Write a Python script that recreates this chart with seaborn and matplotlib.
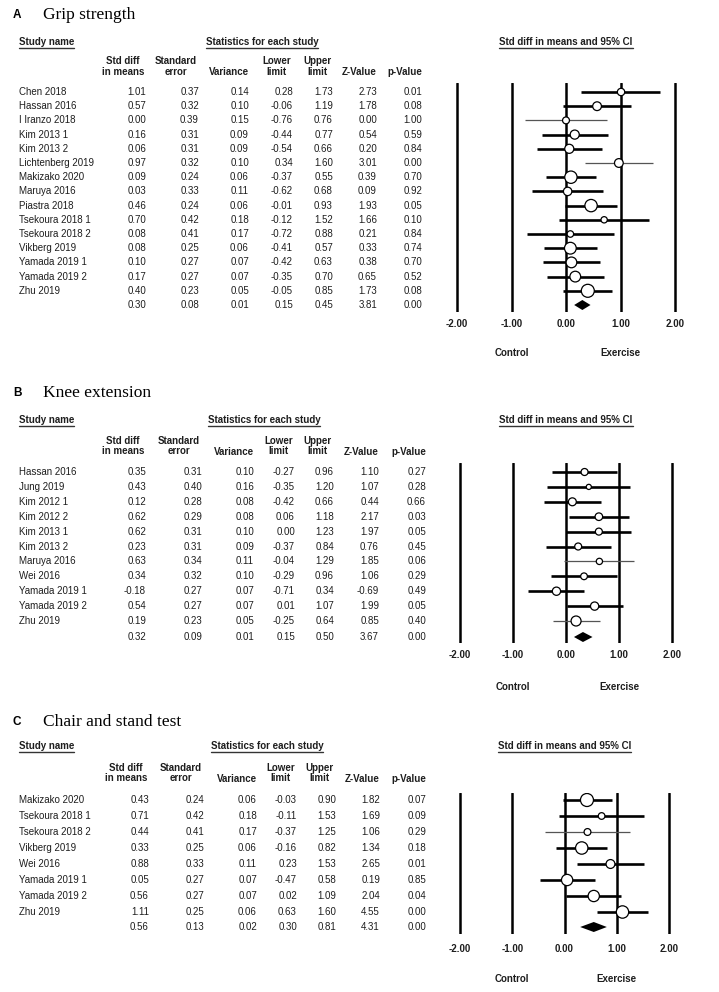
import numpy as np
import pandas as pd
import matplotlib
matplotlib.use("Agg")
import matplotlib.pyplot as plt
import matplotlib.transforms as mtransforms
import seaborn as sns

# ---------------- data ----------------
a_studies = ["Chen 2018", "Hassan 2016", "I Iranzo 2018", "Kim 2013 1", "Kim 2013 2",
             "Lichtenberg 2019", "Makizako 2020", "Maruya 2016", "Piastra 2018",
             "Tsekoura 2018 1", "Tsekoura 2018 2", "Vikberg 2019", "Yamada 2019 1",
             "Yamada 2019 2", "Zhu 2019"]
a_smd = [1.01, 0.57, 0.00, 0.16, 0.06, 0.97, 0.09, 0.03, 0.46, 0.70, 0.08, 0.08, 0.10, 0.17, 0.40]
a_se = [0.37, 0.32, 0.39, 0.31, 0.31, 0.32, 0.24, 0.33, 0.24, 0.42, 0.41, 0.25, 0.27, 0.27, 0.23]
a_var = [0.14, 0.10, 0.15, 0.09, 0.09, 0.10, 0.06, 0.11, 0.06, 0.18, 0.17, 0.06, 0.07, 0.07, 0.05]
a_lower = [0.28, -0.06, -0.76, -0.44, -0.54, 0.34, -0.37, -0.62, -0.01, -0.12, -0.72, -0.41, -0.42, -0.35, -0.05]
a_upper = [1.73, 1.19, 0.76, 0.77, 0.66, 1.60, 0.55, 0.68, 0.93, 1.52, 0.88, 0.57, 0.63, 0.70, 0.85]
a_z = [2.73, 1.78, 0.00, 0.54, 0.20, 3.01, 0.39, 0.09, 1.93, 1.66, 0.21, 0.33, 0.38, 0.65, 1.73]
a_p = [0.01, 0.08, 1.00, 0.59, 0.84, 0.00, 0.70, 0.92, 0.05, 0.10, 0.84, 0.74, 0.70, 0.52, 0.08]
a_overall = [0.30, 0.08, 0.01, 0.15, 0.45, 3.81, 0.00]

b_studies = ["Hassan 2016", "Jung 2019", "Kim 2012 1", "Kim 2012 2", "Kim 2013 1", "Kim 2013 2",
             "Maruya 2016", "Wei 2016", "Yamada 2019 1", "Yamada 2019 2", "Zhu 2019"]
b_smd = [0.35, 0.43, 0.12, 0.62, 0.62, 0.23, 0.63, 0.34, -0.18, 0.54, 0.19]
b_se = [0.31, 0.40, 0.28, 0.29, 0.31, 0.31, 0.34, 0.32, 0.27, 0.27, 0.23]
b_var = [0.10, 0.16, 0.08, 0.08, 0.10, 0.09, 0.11, 0.10, 0.07, 0.07, 0.05]
b_lower = [-0.27, -0.35, -0.42, 0.06, 0.00, -0.37, -0.04, -0.29, -0.71, 0.01, -0.25]
b_upper = [0.96, 1.20, 0.66, 1.18, 1.23, 0.84, 1.29, 0.96, 0.34, 1.07, 0.64]
b_z = [1.10, 1.07, 0.44, 2.17, 1.97, 0.76, 1.85, 1.06, -0.69, 1.99, 0.85]
b_p = [0.27, 0.28, 0.66, 0.03, 0.05, 0.45, 0.06, 0.29, 0.49, 0.05, 0.40]
b_overall = [0.32, 0.09, 0.01, 0.15, 0.50, 3.67, 0.00]

c_studies = ["Makizako 2020", "Tsekoura 2018 1", "Tsekoura 2018 2", "Vikberg 2019", "Wei 2016",
             "Yamada 2019 1", "Yamada 2019 2", "Zhu 2019"]
c_smd = [0.43, 0.71, 0.44, 0.33, 0.88, 0.05, 0.56, 1.11]
c_se = [0.24, 0.42, 0.41, 0.25, 0.33, 0.27, 0.27, 0.25]
c_var = [0.06, 0.18, 0.17, 0.06, 0.11, 0.07, 0.07, 0.06]
c_lower = [-0.03, -0.11, -0.37, -0.16, 0.23, -0.47, 0.02, 0.63]
c_upper = [0.90, 1.53, 1.25, 0.82, 1.53, 0.58, 1.09, 1.60]
c_z = [1.82, 1.69, 1.06, 1.34, 2.65, 0.19, 2.04, 4.55]
c_p = [0.07, 0.09, 0.29, 0.18, 0.01, 0.85, 0.04, 0.00]
c_overall = [0.56, 0.13, 0.02, 0.30, 0.81, 4.31, 0.00]

panel_letters = ["A", "B", "C"]
panel_titles = ["Grip strength", "Knee extension", "Chair and stand test"]
x_ticks = [-2, -1, 0, 1, 2]
x_tick_labels = ["-2.00", "-1.00", "0.00", "1.00", "2.00"]
col_headers = ["Std diff\nin means", "Standard\nerror", "Variance", "Lower\nlimit",
               "Upper\nlimit", "Z-Value", "p-Value"]

panels = [
    dict(studies=a_studies, smd=a_smd, se=a_se, var=a_var, lower=a_lower, upper=a_upper,
         z=a_z, p=a_p, overall=a_overall),
    dict(studies=b_studies, smd=b_smd, se=b_se, var=b_var, lower=b_lower, upper=b_upper,
         z=b_z, p=b_p, overall=b_overall),
    dict(studies=c_studies, smd=c_smd, se=c_se, var=c_var, lower=c_lower, upper=c_upper,
         z=c_z, p=c_p, overall=c_overall),
]

# ---------------- layout (pixels) ----------------
layout = [
    dict(title_y=15, study_y=42, h1=61, h2=72, row0=92, step=14.2, overall_y=305,
         cols=[146, 199, 249, 293, 333, 377, 422], stats_x=262,
         xm2=457, xp2=675, line_top=83, line_bot=312, tick_pad=5.0, ce_y=353,
         dmax=13, thin=[2, 5]),
    dict(title_y=393, study_y=420, h1=440, h2=452, row0=472, step=14.9, overall_y=637,
         cols=[146, 202, 254, 295, 334, 379, 426], stats_x=264,
         xm2=460, xp2=672, line_top=463, line_bot=643, tick_pad=5.0, ce_y=687,
         dmax=10, thin=[6, 10]),
    dict(title_y=722, study_y=746, h1=767, h2=779, row0=800, step=16.0, overall_y=927,
         cols=[149, 204, 257, 297, 336, 380, 426], stats_x=267,
         xm2=460, xp2=669, line_top=793, line_bot=934, tick_pad=7.5, ce_y=979,
         dmax=13, thin=[2]),
]

sns.set_theme(style="white")
plt.rcParams["font.family"] = ["Liberation Sans", "DejaVu Sans"]

W, H = 719, 992
fig = plt.figure(figsize=(W / 100, H / 100), dpi=100)
fig.patch.set_facecolor("white")
bg = fig.add_axes([0, 0, 1, 1])
bg.set_xlim(0, W)
bg.set_ylim(H, 0)
bg.axis("off")

TXT = "#1e1e1e"
FS = 7
underlined = []

for i, (pd_, lay) in enumerate(zip(panels, layout)):
    # title
    bg.text(17, lay["title_y"], panel_letters[i], fontsize=8.5, fontweight="bold",
            ha="center", va="center", color="black")
    bg.text(43, lay["title_y"], panel_titles[i], fontsize=12.5, family="Liberation Serif",
            ha="left", va="center", color="black")
    # headers
    t1 = bg.text(19, lay["study_y"], "Study name", fontsize=FS, fontweight="bold",
                 ha="left", va="center", color=TXT)
    t2 = bg.text(lay["stats_x"], lay["study_y"], "Statistics for each study", fontsize=FS,
                 fontweight="bold", ha="center", va="center", color=TXT)
    t3 = bg.text((lay["xm2"] + lay["xp2"]) / 2, lay["study_y"], "Std diff in means and 95% CI",
                 fontsize=FS, fontweight="bold", ha="center", va="center", color=TXT)
    underlined += [t1, t2, t3]
    for j, h in enumerate(col_headers):
        xr = lay["cols"][j] - (2 if j in (0, 1, 3, 4) else 0)
        if "\n" in h:
            bg.text(xr, (lay["h1"] + lay["h2"]) / 2, h, fontsize=FS, fontweight="bold",
                    ha="right", va="center", multialignment="center", linespacing=1.1,
                    color=TXT)
        else:
            bg.text(xr, lay["h2"], h, fontsize=FS, fontweight="bold", ha="right",
                    va="center", color=TXT)

    # table rows
    n = len(pd_["studies"])
    cols_vals = [pd_["smd"], pd_["se"], pd_["var"], pd_["lower"], pd_["upper"], pd_["z"], pd_["p"]]
    for r in range(n):
        y = lay["row0"] + r * lay["step"]
        bg.text(19, y, pd_["studies"][r], fontsize=FS, ha="left", va="center", color=TXT)
        for j, vals in enumerate(cols_vals):
            bg.text(lay["cols"][j], y, f"{vals[r]:.2f}", fontsize=FS, ha="right",
                    va="center", color=TXT)
    for j, v in enumerate(pd_["overall"]):
        bg.text(lay["cols"][j], lay["overall_y"], f"{v:.2f}", fontsize=FS, ha="right",
                va="center", color=TXT)

    # forest axes
    unit = (lay["xp2"] - lay["xm2"]) / 4.0
    xlim = (-2 - (lay["xm2"] - 400) / unit, 2 + (W - lay["xp2"]) / unit)
    ax = fig.add_axes([400 / W, 1 - lay["line_bot"] / H, (W - 400) / W,
                       (lay["line_bot"] - lay["line_top"]) / H])
    ax.set_facecolor("none")
    ax.set_xlim(*xlim)
    yb = (lay["line_bot"] - lay["row0"]) / lay["step"]
    yt = (lay["line_top"] - lay["row0"]) / lay["step"]
    ax.set_ylim(yb, yt)
    for s in ax.spines.values():
        s.set_visible(False)
    for xv in x_ticks:
        ax.axvline(xv, color="black", lw=1.8, zorder=1)

    df = pd.DataFrame({"row": np.arange(n), "smd": pd_["smd"], "lower": pd_["lower"],
                       "upper": pd_["upper"], "se": pd_["se"]})
    w = 1.0 / df["se"] ** 2
    diam = lay["dmax"] * (w / w.max()) ** 0.6
    sizes = (diam * 0.72) ** 2
    lws = [0.9 if r in lay["thin"] else 1.9 for r in range(n)]
    cols_l = ["#555555" if r in lay["thin"] else "black" for r in range(n)]
    ax.hlines(df["row"], df["lower"], df["upper"], colors=cols_l, linewidths=lws, zorder=2)
    sns.scatterplot(data=df, x="smd", y="row", s=sizes.values, color="white",
                    edgecolor="black", linewidth=0.9, ax=ax, zorder=3, legend=False)
    ax.set_xlabel("")
    ax.set_ylabel("")
    ax.set_yticks([])
    ax.set_xticks(x_ticks)
    ax.set_xticklabels(x_tick_labels, fontsize=FS, fontweight="bold", color=TXT)
    ax.tick_params(axis="x", length=0, pad=lay["tick_pad"])
    # summary diamond
    oy = (lay["overall_y"] - lay["row0"]) / lay["step"]
    hh = 5.0 / lay["step"]
    ov = pd_["overall"]
    ax.fill([ov[3], ov[0], ov[4], ov[0]], [oy, oy - hh, oy, oy + hh], color="black",
            zorder=4, lw=0)

    tr = mtransforms.blended_transform_factory(ax.transData, bg.transData)
    bg.text(-1, lay["ce_y"], "Control", transform=tr, fontsize=FS, fontweight="bold",
            ha="center", va="center", color=TXT)
    bg.text(1, lay["ce_y"], "Exercise", transform=tr, fontsize=FS, fontweight="bold",
            ha="center", va="center", color=TXT)

# underline headers
fig.canvas.draw()
renderer = fig.canvas.get_renderer()
inv = bg.transData.inverted()
for t in underlined:
    bb = t.get_window_extent(renderer)
    (x0, y0), (x1, y1) = inv.transform([[bb.x0, bb.y0], [bb.x1, bb.y1]])
    bg.plot([x0, x1], [y0 + 0.5, y0 + 0.5], color="#333333", lw=1.0)

fig.savefig("out.png", dpi=100, facecolor="white")
